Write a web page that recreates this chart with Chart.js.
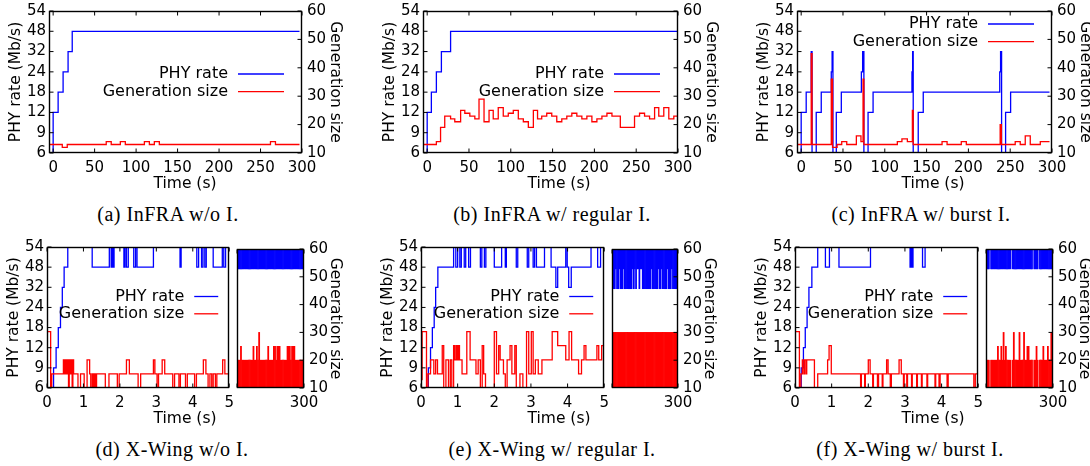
<!DOCTYPE html>
<html>
<head>
<meta charset="utf-8">
<script src="https://cdn.jsdelivr.net/npm/chart.js@4.4.0/dist/chart.umd.min.js"></script>
<style>
  html, body { margin: 0; padding: 0; background: #fff; overflow: hidden; }
  #fig { position: relative; width: 1090px; height: 466px; overflow: hidden; background: #fff; }
  #fig canvas { position: absolute; }
  .xt { position: absolute; font: 15.5px "DejaVu Sans", sans-serif; color: #000; transform: translate(-50%, -50%); white-space: nowrap; }
  .cap { position: absolute; font: 20px "Liberation Serif", serif; letter-spacing: 0.5px; color: #000; transform: translate(-50%, -50%); white-space: nowrap; }
</style>
</head>
<body>
<div id="fig"></div>
<script>
// axes
const RATES = [6, 9, 12, 18, 24, 32, 48, 54];       // PHY rates, evenly spaced on the left axis
const genTicks = [10, 20, 30, 40, 50, 60];
const timeTicksLong = [0, 50, 100, 150, 200, 250, 300];
const timeTicksShort = [0, 1, 2, 3, 4, 5];
const timeTicksTail = [5, 300];

// (a) InFRA w/o I.   [time (s), value]
const phyA = [[0,6],[0,12],[6,18],[12,24],[18,32],[23,48],[297,48]];
const genA = [[-5,13],[11,12],[17,13],[64,14],[70,13],[81,14],[87,13],[110,14],[116,13],
  [122,14],[128,13],[262,14],[268,13],[297,13]];

// (b) InFRA w/ regular I.
const phyB = [[0,6],[0,12],[5,18],[11,24],[17,32],[28,48],[300,48]];
const genB = [[-5,13],[11,14],[16,19],[21,23],[28,22],[33,21],[40,25],[45,24],[51,23],[57,22],
  [62,29],[68,21],[74,25],[79,22],[85,26],[91,23],[97,24],[103,25],[109,22],[115,21],[121,19],
  [127,25],[132,22],[137,23],[143,24],[149,23],[155,21],[161,22],[167,23],[173,24],[179,23],
  [185,22],[191,23],[197,21],[203,22],[209,23],[215,24],[221,23],[231,19],[248,23],[254,24],
  [260,23],[266,22],[272,26],[277,23],[283,26],[289,22],[295,23],[300,23]];

// (c) InFRA w/ burst I.
const phyC = [[0,6],[0,12],[6,18],[12,32],[13,6],[18,12],[24,18],[36,24],[37,32],[38,6],[42,12],
  [48,18],[72,24],[73.5,32],[75,6],[80,12],[86,18],[132.5,24],[133.3,32],[134,6],[140,12],[146,18],
  [237.5,24],[238.5,32],[239.7,6],[244.5,12],[250.5,18],[297,18]];
const genC = [[-5,13],[12,45],[13,13],[36,36],[37.5,12],[43,13],[48.5,14],[54.5,13],[66,16],
  [71.5,14],[74,36],[75,13],[115,14],[120.5,15],[127,14],[133,25],[134,13],[168.5,14],[174.5,13],
  [191.5,14],[197.5,13],[238,20],[239.5,13],[256,14],[262,13],[268,16],[274,13],[286,14],[297,14]];

// (d) X-Wing w/o I., first 5 s
const phyD = [[0,6],[0.18,9],[0.25,12],[0.31,18],[0.37,24],[0.42,32],[0.47,48],[0.57,54],[1.24,48],
  [1.71,54],[1.76,48],[1.79,54],[1.81,48],[1.84,54],[2.11,48],[2.14,54],[2.18,48],[2.23,54],
  [2.38,48],[2.43,54],[2.47,48],[2.92,54],[3.65,48],[3.68,54],[4.11,48],[4.16,54],[4.24,48],
  [4.28,54],[4.33,48],[4.37,54],[4.56,48],[4.81,54],[4.85,48],[4.9,54],[5,54]];
const genD = [[0,13],[0.01,30],[0.1,10],[0.13,15],[0.45,20],[0.48,15],[0.5,20],[0.53,15],[0.56,20],
  [0.59,10],[0.61,20],[0.64,15],[0.66,20],[0.69,10],[0.71,20],[0.73,15],[0.85,10],[0.92,15],
  [1.02,10],[1.1,20],[1.17,15],[1.2,10],[1.24,15],[1.27,10],[1.3,15],[1.33,10],[1.36,15],[1.6,10],
  [1.7,15],[1.93,10],[1.98,15],[2.18,20],[2.26,15],[2.5,10],[2.57,15],[2.92,20],[2.96,15],[3.02,10],
  [3.06,15],[3.16,20],[3.23,15],[3.45,10],[3.5,15],[3.62,10],[3.66,15],[3.8,10],[3.85,15],[4.05,10],
  [4.1,15],[4.29,20],[4.36,15],[4.42,10],[4.47,15],[4.52,10],[4.56,15],[4.62,10],[4.66,15],
  [4.82,20],[4.88,15],[5,15]];

// (e) X-Wing w/ regular I., first 5 s
const phyE = [[0,6],[0.2,9],[0.26,12],[0.31,18],[0.36,24],[0.4,32],[0.46,48],[0.89,54],[0.95,48],
  [1.0,54],[1.06,48],[1.1,54],[1.18,48],[1.22,54],[1.3,48],[1.35,54],[1.62,48],[1.66,54],[1.73,48],
  [1.77,54],[2.0,48],[2.2,54],[2.3,48],[2.33,54],[2.6,48],[2.64,54],[2.9,48],[2.94,54],[3.06,48],
  [3.1,54],[3.15,48],[3.37,54],[3.55,48],[3.68,32],[3.73,48],[3.95,54],[3.99,48],[4.03,32],
  [4.1,48],[4.64,54],[4.82,48],[4.9,54],[5,54]];
const genE = [[0,13],[0.03,30],[0.15,10],[0.19,15],[0.26,20],[0.35,15],[0.4,20],[0.45,15],[0.58,25],
  [0.62,10],[0.68,20],[0.75,10],[0.8,20],[0.84,10],[0.89,25],[0.92,20],[0.96,25],[0.99,20],
  [1.02,25],[1.05,20],[1.12,15],[1.25,30],[1.34,20],[1.5,15],[1.56,20],[1.62,10],[1.67,25],
  [1.71,15],[1.76,10],[2.0,30],[2.06,15],[2.12,25],[2.16,20],[2.25,15],[2.3,10],[2.35,20],
  [2.43,25],[2.48,15],[2.56,25],[2.6,10],[2.7,15],[2.78,10],[2.88,30],[2.94,15],[3.01,30],
  [3.06,15],[3.12,20],[3.2,15],[3.3,20],[3.58,30],[3.73,25],[3.95,20],[4.04,30],[4.11,20],
  [4.3,15],[4.38,20],[4.45,25],[4.5,20],[4.8,25],[4.85,20],[4.93,25],[5,25]];

// (f) X-Wing w/ burst I., first 5 s
const phyF = [[0,6],[0.17,9],[0.23,12],[0.28,18],[0.33,24],[0.38,32],[0.46,48],[0.62,54],[0.83,48],
  [0.94,54],[1.2,48],[2.06,54],[3.14,48],[3.17,54],[3.2,48],[3.22,54],[3.48,48],[3.55,54],[5,54]];
const genF = [[0,13],[0.01,30],[0.12,10],[0.16,15],[0.2,20],[0.24,15],[0.26,20],[0.3,15],[0.32,20],
  [0.53,10],[0.62,15],[0.89,20],[0.93,25],[0.99,15],[1.79,10],[1.81,15],[1.9,10],[1.92,15],
  [2.0,20],[2.05,15],[2.12,10],[2.14,15],[2.25,10],[2.28,15],[2.38,10],[2.4,15],[2.5,20],
  [2.54,15],[2.6,10],[2.63,15],[2.84,20],[2.9,15],[2.96,10],[2.98,15],[3.05,10],[3.07,15],
  [3.18,10],[3.2,15],[3.32,10],[3.34,15],[3.45,10],[3.47,15],[3.6,10],[3.62,15],[3.82,10],
  [3.84,15],[3.93,10],[3.96,15],[4.15,10],[4.18,15],[4.88,10],[4.92,15],[5,15]];

// 5..300 s: min / max of each 5 s bin (bin centres)
const binT = [7.5,12.5,17.5,22.5,27.5,32.5,37.5,42.5,47.5,52.5,
  57.5,62.5,67.5,72.5,77.5,82.5,87.5,92.5,97.5,102.5,
  107.5,112.5,117.5,122.5,127.5,132.5,137.5,142.5,147.5,152.5,
  157.5,162.5,167.5,172.5,177.5,182.5,187.5,192.5,197.5,202.5,
  207.5,212.5,217.5,222.5,227.5,232.5,237.5,242.5,247.5,252.5,
  257.5,262.5,267.5,272.5,277.5,282.5,287.5,292.5,297.5];

const phyLoD = [48,48,48,48,48,48,48,48,48,48, 48,48,48,48,48,48,48,48,48,48, 48,48,48,48,48,48,48,48,48,48,
  48,48,48,48,48,48,48,48,48,48, 48,48,48,48,48,48,48,48,48,48, 48,48,48,48,48,48,48,48,48];
const phyHiD = [54,54,54,54,54,54,54,54,54,54, 54,54,54,54,54,54,54,54,54,54, 54,54,54,54,54,54,54,54,54,54,
  54,54,54,54,54,54,54,54,54,54, 54,54,54,54,54,54,54,54,54,54, 54,54,54,54,54,54,54,54,54];
const genLoD = [10,10,10,10,10,10,10,10,10,10, 10,10,10,10,10,10,10,10,10,10, 10,10,10,10,10,10,10,10,10,10,
  10,10,10,10,10,10,10,10,10,10, 10,10,10,10,10,10,10,10,10,10, 10,10,10,10,10,10,10,10,10];
const genHiD = [20,20,20,25,20,20,20,20,20,20, 20,20,20,20,25,20,20,25,20,30, 20,20,20,20,20,20,20,25,20,20,
  20,20,25,25,20,25,25,25,20,20, 20,20,20,20,25,25,25,20,25,25, 25,20,20,20,20,20,20,20,20];

const phyLoE = [32,32,32,48,32,32,48,32,32,32, 48,32,32,32,32,32,32,32,48,32, 48,32,48,48,32,48,48,32,32,32,
  32,32,32,32,32,48,32,32,32,32, 32,48,32,32,48,32,32,32,32,48, 32,32,32,48,32,32,32,32,32];
const phyHiE = [54,54,54,54,54,54,54,54,54,54, 54,54,54,54,54,54,54,54,54,54, 54,54,54,54,54,54,54,54,54,54,
  54,54,54,54,54,54,54,54,54,54, 54,54,54,54,54,54,54,54,54,54, 54,54,54,54,54,54,54,54,54];
const genLoE = [10,10,10,10,10,10,10,10,10,10, 10,10,10,10,10,10,10,10,10,10, 10,10,10,10,10,10,10,10,10,10,
  10,10,10,10,10,10,10,10,10,10, 10,10,10,10,10,10,10,10,10,10, 10,10,10,10,10,10,10,10,10];
const genHiE = [30,30,30,30,30,30,30,30,30,30, 30,30,30,30,30,30,30,30,30,30, 30,30,30,30,30,30,30,30,30,30,
  30,30,30,30,30,30,30,30,30,30, 30,30,30,30,30,30,30,30,30,30, 30,30,30,30,30,30,30,30,30];

const phyLoF = [48,48,48,null,48,48,48,48,48,48, 48,48,48,48,48,48,48,48,48,48, 48,48,null,48,48,48,48,48,48,48,
  48,48,48,48,48,48,48,48,48,48, 48,null,48,48,48,48,null,48,48,48, 48,48,48,48,48,48,48,48,48];
const phyHiF = [54,54,54,null,54,54,54,54,54,54, 54,54,54,54,54,54,54,54,54,54, 54,54,null,54,54,54,54,54,54,54,
  54,54,54,54,54,54,54,54,54,54, 54,null,54,54,54,54,null,54,54,54, 54,54,54,54,54,54,54,54,54];
const genLoF = [10,10,10,null,10,10,10,10,10,10, 10,10,10,10,10,10,10,10,10,10, 10,10,null,10,10,10,10,10,10,10,
  10,10,10,10,10,10,10,10,10,10, 10,null,10,10,10,10,null,10,10,10, 10,10,10,10,10,10,10,10,10];
const genHiF = [20,20,20,null,20,20,20,20,20,20, 25,20,20,25,20,30,20,25,20,20, 20,20,null,20,30,20,20,20,20,30,
  20,20,20,30,20,20,25,25,20,20, 20,null,20,20,25,20,null,20,20,20, 25,20,20,20,25,20,20,30,30];

const BLUE = 'rgb(0,0,255)';
const RED = 'rgb(255,0,0)';
const tickFont = { family: 'DejaVu Sans', size: 15 };
const titleFont = { family: 'DejaVu Sans', size: 15.5 };
const fig = document.getElementById('fig');

const idx = v => RATES.indexOf(v);
const steps = (arr, rate) => arr.map(([t, v]) => ({ x: t, y: rate ? idx(v) : v }));
const bins = (lo, hi, rate) => binT
  .map((t, i) => hi[i] == null ? null : { x: t, y: rate ? [idx(lo[i]), idx(hi[i])] : [lo[i], hi[i]] })
  .filter(Boolean);

function lineSets(phy, gen) {
  return [
    { data: steps(gen, false), yAxisID: 'y2', borderColor: RED, borderWidth: 1.3, pointRadius: 0, stepped: true },
    { data: steps(phy, true), yAxisID: 'y', borderColor: BLUE, borderWidth: 1.3, pointRadius: 0, stepped: true }
  ];
}

function barSets(phyLo, phyHi, genLo, genHi) {
  const common = { borderWidth: 0, barPercentage: 1, categoryPercentage: 1, grouped: false };
  return [
    { ...common, data: bins(genLo, genHi, false), yAxisID: 'y2', backgroundColor: RED },
    { ...common, data: bins(phyLo, phyHi, true), yAxisID: 'y', backgroundColor: BLUE }
  ];
}

// frame, inward tick marks and gnuplot style key
const frame = {
  id: 'frame',
  afterDatasetsDraw(chart, args, opts) {
    const { ctx, chartArea: a, scales } = chart;
    const L = Math.round(a.left) + 0.5, R = Math.round(a.right) - 0.5;
    const T = Math.round(a.top) + 0.5, B = Math.round(a.bottom) - 0.5;
    ctx.save();
    ctx.strokeStyle = '#000';
    ctx.lineWidth = 1;
    ctx.beginPath();
    scales.x.ticks.forEach(t => {
      const px = scales.x.getPixelForValue(t.value);
      ctx.moveTo(px, B); ctx.lineTo(px, B - 4);
      ctx.moveTo(px, T); ctx.lineTo(px, T + 4);
    });
    if (scales.y.options.display) {
      scales.y.ticks.forEach(t => {
        const py = scales.y.getPixelForValue(t.value);
        ctx.moveTo(L, py); ctx.lineTo(L + 4, py);
      });
    }
    if (scales.y2.options.display) {
      scales.y2.ticks.forEach(t => {
        const py = scales.y2.getPixelForValue(t.value);
        ctx.moveTo(R, py); ctx.lineTo(R - 4, py);
      });
    }
    ctx.stroke();
    ctx.lineWidth = 1.4;
    ctx.strokeRect(L, T, R - L, B - T);

    if (opts.key) {
      const k = opts.key;
      ctx.font = '16px "DejaVu Sans"';
      ctx.textAlign = 'right';
      ctx.textBaseline = 'middle';
      ctx.fillStyle = '#000';
      [['PHY rate', BLUE], ['Generation size', RED]].forEach(([label, color], i) => {
        const y = a.top + k.y + i * k.gap;
        const x1 = a.right - k.end, x0 = x1 - k.len;
        ctx.fillText(label, x0 - 10, y);
        ctx.strokeStyle = color;
        ctx.lineWidth = 1.3;
        ctx.beginPath(); ctx.moveTo(x0, y); ctx.lineTo(x1, y); ctx.stroke();
      });
    }
    ctx.restore();
  }
};

function panel(p) {
  const lw = p.left ? 45 : 8, rw = p.right ? p.rightW : 8;
  const padTop = 12, xh = 26;
  const [l, r, t, b] = p.area;
  const w = r - l + lw + rw, h = b - t + padTop + xh;
  const c = document.createElement('canvas');
  c.width = w; c.height = h;
  c.style.left = (l - lw) + 'px';
  c.style.top = (t - padTop) + 'px';
  c.style.width = w + 'px';
  c.style.height = h + 'px';
  fig.appendChild(c);

  new Chart(c, {
    type: p.type,
    data: { datasets: p.datasets },
    options: {
      responsive: false,
      animation: false,
      devicePixelRatio: 1,
      events: [],
      layout: { padding: { left: p.left ? 0 : 8, right: p.right ? 0 : 8, top: padTop, bottom: 0 } },
      plugins: { legend: { display: false }, tooltip: { enabled: false }, frame: { key: p.key || null } },
      scales: {
        x: {
          type: 'linear', min: p.xRange[0], max: p.xRange[1], offset: false,
          grid: { display: false, drawTicks: false }, border: { display: false },
          afterBuildTicks: s => { s.ticks = p.xTicks.map(v => ({ value: v })); },
          afterFit: s => { s.height = xh; },
          ticks: {
            autoSkip: false, maxRotation: 0, padding: 6, color: '#000', font: tickFont,
            callback: v => (p.xHide && p.xHide.includes(v)) ? '' : String(v)
          }
        },
        y: {
          display: !!p.left, position: 'left', min: 0, max: 7,
          grid: { display: false, drawTicks: false }, border: { display: false },
          afterBuildTicks: s => { s.ticks = RATES.map((_, i) => ({ value: i })); },
          afterFit: s => { if (p.left) s.width = 45; },
          ticks: { autoSkip: false, padding: 3, color: '#000', font: tickFont, callback: v => String(RATES[v]) },
          title: { display: true, text: 'PHY rate (Mb/s)', color: '#000', font: titleFont, padding: { top: 3, bottom: 0 } }
        },
        y2: {
          display: !!p.right, position: 'right', min: 10, max: 60,
          grid: { display: false, drawTicks: false }, border: { display: false },
          afterBuildTicks: s => { s.ticks = genTicks.map(v => ({ value: v })); },
          afterFit: s => { if (p.right) s.width = p.rightW; },
          ticks: { autoSkip: false, padding: 5, color: '#000', font: tickFont },
          title: { display: true, text: 'Generation size', color: '#000', font: titleFont, padding: { top: 3, bottom: 0 } }
        }
      }
    },
    plugins: [frame]
  });
}

const keyTop = { y: 63, gap: 17.6, end: 18, len: 46 };
const keyHigh = { y: 13, gap: 17.6, end: 18, len: 46 };
const keySmall = { y: 49.5, gap: 17.3, end: 11, len: 24 };

// top row
panel({ type: 'line', area: [49, 302, 9, 153], xRange: [-5, 300], xTicks: timeTicksLong,
  left: true, right: true, rightW: 45, key: keyTop, datasets: lineSets(phyA, genA) });
panel({ type: 'line', area: [423, 678, 9, 153], xRange: [-5, 300], xTicks: timeTicksLong,
  left: true, right: true, rightW: 45, key: keyTop, datasets: lineSets(phyB, genB) });
panel({ type: 'line', area: [797, 1052, 9, 153], xRange: [-5, 300], xTicks: timeTicksLong,
  left: true, right: true, rightW: 45, key: keyHigh, datasets: lineSets(phyC, genC) });

// bottom row: first 5 s on the left, the rest squeezed on the right
panel({ type: 'line', area: [47, 232, 247, 388], xRange: [0, 5], xTicks: timeTicksShort,
  left: true, right: false, key: keySmall, datasets: lineSets(phyD, genD) });
panel({ type: 'bar', area: [237, 304, 247, 388], xRange: [5, 300], xTicks: timeTicksTail, xHide: [5],
  left: false, right: true, rightW: 43, datasets: barSets(phyLoD, phyHiD, genLoD, genHiD) });
panel({ type: 'line', area: [421, 607, 247, 388], xRange: [0, 5], xTicks: timeTicksShort,
  left: true, right: false, key: keySmall, datasets: lineSets(phyE, genE) });
panel({ type: 'bar', area: [612, 678, 247, 388], xRange: [5, 300], xTicks: timeTicksTail, xHide: [5],
  left: false, right: true, rightW: 43, datasets: barSets(phyLoE, phyHiE, genLoE, genHiE) });
panel({ type: 'line', area: [795, 981, 247, 388], xRange: [0, 5], xTicks: timeTicksShort,
  left: true, right: false, key: keySmall, datasets: lineSets(phyF, genF) });
panel({ type: 'bar', area: [986, 1053, 247, 388], xRange: [5, 300], xTicks: timeTicksTail, xHide: [5],
  left: false, right: true, rightW: 43, datasets: barSets(phyLoF, phyHiF, genLoF, genHiF) });

// axis titles under each plot and the sub-captions
const xTitles = [[185, 183], [559, 183], [933, 183], [185, 418], [559, 418], [933, 418]];
xTitles.forEach(([x, y]) => {
  const d = document.createElement('div');
  d.className = 'xt';
  d.style.left = x + 'px';
  d.style.top = y + 'px';
  d.textContent = 'Time (s)';
  fig.appendChild(d);
});

const captions = [
  ['(a) InFRA w/o I.', 168, 214],
  ['(b) InFRA w/ regular I.', 552, 214],
  ['(c) InFRA w/ burst I.', 921, 214],
  ['(d) X-Wing w/o I.', 172, 449],
  ['(e) X-Wing w/ regular I.', 552, 449],
  ['(f) X-Wing w/ burst I.', 910, 449]
];
captions.forEach(([text, x, y]) => {
  const d = document.createElement('div');
  d.className = 'cap';
  d.style.left = x + 'px';
  d.style.top = y + 'px';
  d.textContent = text;
  fig.appendChild(d);
});
</script>
</body>
</html>
